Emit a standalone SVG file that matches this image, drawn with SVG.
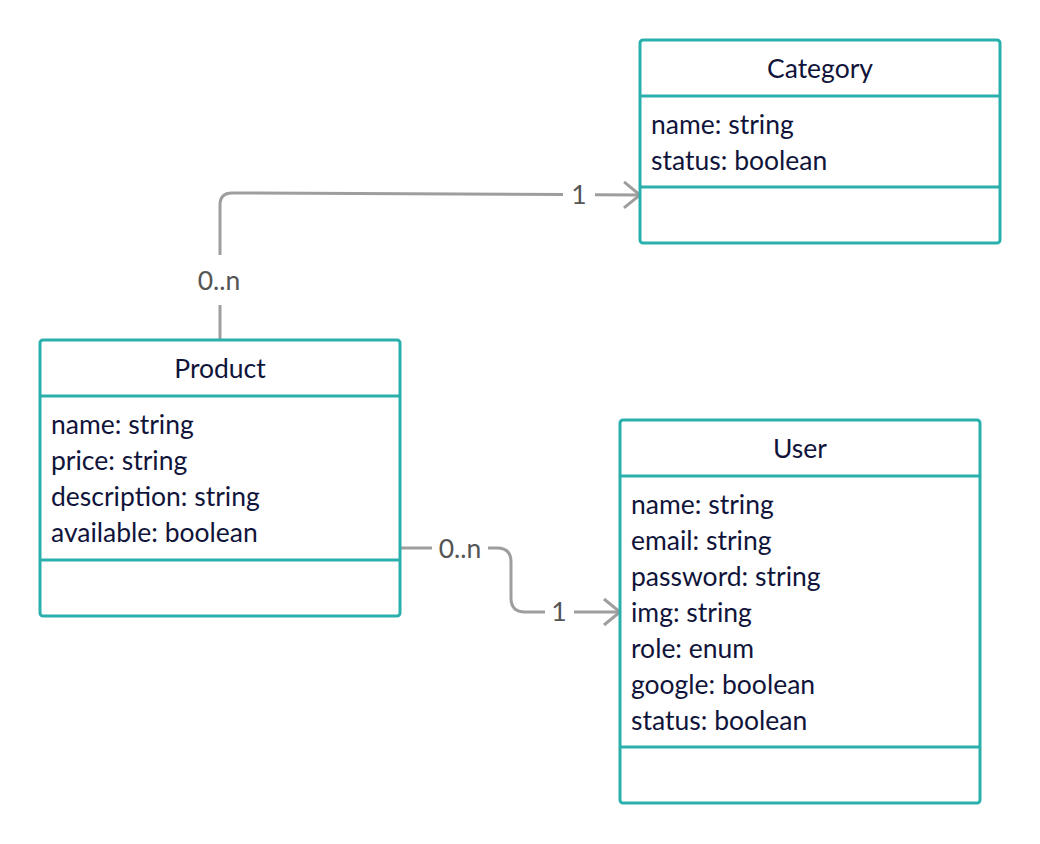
<svg xmlns="http://www.w3.org/2000/svg" width="1040" height="844" viewBox="0 0 1040 844">
<defs>
<style>
.box{fill:#fff;stroke:#2AB0AC;stroke-width:3}
.div{stroke:#2AB0AC;stroke-width:3}
.title{font-family:Lato,"Liberation Sans",sans-serif;font-size:26.5px;fill:#11143a;text-anchor:middle}
.attr{font-family:Lato,"Liberation Sans",sans-serif;font-size:26.5px;fill:#11143a}
.conn{fill:none;stroke:#9e9e9e;stroke-width:3}
.lbl{font-family:Lato,"Liberation Sans",sans-serif;font-size:26.5px;fill:#555;text-anchor:middle}
</style>
<marker id="arr" viewBox="0 0 20 30" refX="18" refY="15" markerWidth="20" markerHeight="30" markerUnits="userSpaceOnUse" orient="auto">
<path d="M2,2 L18,15 L2,28" fill="none" stroke="#9e9e9e" stroke-width="3"/>
</marker>
</defs>
<rect width="1040" height="844" fill="#fff"/>
<g id="connectors">
<path class="conn" d="M220,340 V305"/>
<path class="conn" d="M220,255 V205 Q220,193 232,193 L563,194.5"/>
<path class="conn" d="M595,194.8 L640,195" marker-end="url(#arr)"/>
<path class="conn" d="M400,548 H432"/>
<path class="conn" d="M488,548 H497 Q511,548 511,562 V598 Q511,612 525,612 H545"/>
<path class="conn" d="M574,612 H620" marker-end="url(#arr)"/>
<text class="lbl" x="219" y="290">0..n</text>
<text class="lbl" x="579" y="204">1</text>
<text class="lbl" x="460" y="558">0..n</text>
<text class="lbl" x="559" y="621">1</text>
</g>
<g id="category">
<rect class="box" x="640" y="40" width="360" height="203" rx="3"/>
<line class="div" x1="640" y1="96" x2="1000" y2="96"/>
<line class="div" x1="640" y1="187" x2="1000" y2="187"/>
<text class="title" x="820" y="78">Category</text>
<text class="attr" x="651" y="134">name: string</text>
<text class="attr" x="651" y="170">status: boolean</text>
</g>
<g id="product">
<rect class="box" x="40" y="340" width="360" height="276" rx="3"/>
<line class="div" x1="40" y1="396" x2="400" y2="396"/>
<line class="div" x1="40" y1="560" x2="400" y2="560"/>
<text class="title" x="220" y="378">Product</text>
<text class="attr" x="51" y="434">name: string</text>
<text class="attr" x="51" y="470">price: string</text>
<text class="attr" x="51" y="506">description: string</text>
<text class="attr" x="51" y="542">available: boolean</text>
</g>
<g id="user">
<rect class="box" x="620" y="420" width="360" height="383" rx="3"/>
<line class="div" x1="620" y1="476" x2="980" y2="476"/>
<line class="div" x1="620" y1="747" x2="980" y2="747"/>
<text class="title" x="800" y="458">User</text>
<text class="attr" x="631" y="514">name: string</text>
<text class="attr" x="631" y="550">email: string</text>
<text class="attr" x="631" y="586">password: string</text>
<text class="attr" x="631" y="622">img: string</text>
<text class="attr" x="631" y="658">role: enum</text>
<text class="attr" x="631" y="694">google: boolean</text>
<text class="attr" x="631" y="730">status: boolean</text>
</g>
</svg>
